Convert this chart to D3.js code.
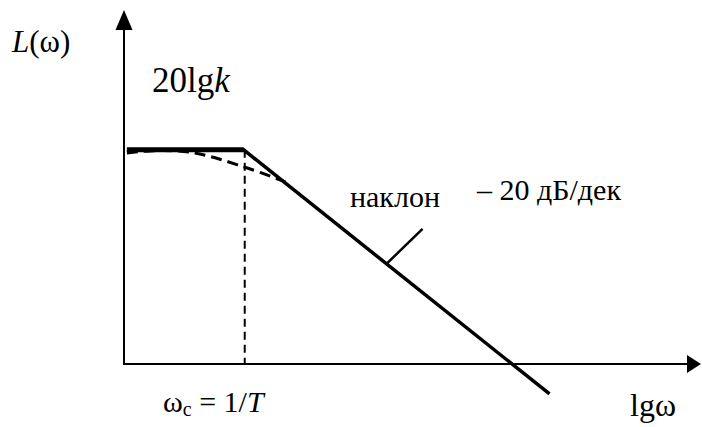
<!DOCTYPE html>
<html>
<head>
<meta charset="utf-8">
<script src="https://cdn.jsdelivr.net/npm/d3@7/dist/d3.min.js"></script>
</head>
<body style="margin:0">
<svg id="chart" width="702" height="427"></svg>
<script>
// Asymptotic LAFC of an aperiodic (first-order) link, lgω in decades
const gainDb = 37.2;          // 20lg k
const cornerLg = 0.83;        // lg ωc, ωc = 1/T
const slopeDb = -20;          // dB per decade above ωc

const asymLg = [0.02, cornerLg, 2.95];
const asymDb = asymLg.map(v => v <= cornerLg ? gainDb : gainDb + slopeDb * (v - cornerLg));

// exact characteristic near the corner (dashed)
const exactLg = [0.02, 0.18, 0.35, 0.49, 0.63, 0.78, 0.94, 1.12];
const exactDb = [36.66, 37.09, 37.09, 36.74, 35.88, 34.66, 33.36, 31.6];

const xDomain = [0, 4];
const yDomain = [0, 61.5];

// label parts: [text, italic, subscript]
const labels = [
  { x: 12,  y: 52,  size: 31, parts: [["L", 1, 0], ["(ω)", 0, 0]] },
  { x: 152, y: 92,  size: 35, parts: [["20lg", 0, 0], ["k", 1, 0]] },
  { x: 350, y: 207, size: 30, parts: [["наклон", 0, 0]] },
  { x: 477, y: 200, size: 30, parts: [["– 20 дБ/дек", 0, 0]] },
  { x: 163, y: 412, size: 30, parts: [["ω", 0, 0], ["c", 0, 1], [" = 1/", 0, 0], ["T", 1, 0]] },
  { x: 630, y: 416, size: 32, parts: [["lgω", 0, 0]] }
];

const svg = d3.select("#chart");
const W = 702, H = 427;
const m = { left: 124, right: 1, top: 10, bottom: 63 };

const x = d3.scaleLinear().domain(xDomain).range([m.left, W - m.right]);
const y = d3.scaleLinear().domain(yDomain).range([H - m.bottom, m.top]);

const line = d3.line().x(d => x(d[0])).y(d => y(d[1]));

// axes with arrow heads
const x0 = x(xDomain[0]), y0 = y(yDomain[0]);
const xEnd = x(xDomain[1]), yEnd = y(yDomain[1]);
svg.append("line").attr("x1", x0).attr("y1", y0).attr("x2", xEnd - 10).attr("y2", y0)
  .attr("stroke", "#000").attr("stroke-width", 2);
svg.append("line").attr("x1", x0).attr("y1", y0 + 1).attr("x2", x0).attr("y2", yEnd + 12)
  .attr("stroke", "#000").attr("stroke-width", 2);
svg.append("path")
  .attr("d", `M${xEnd},${y0} L${xEnd - 14},${y0 - 9} L${xEnd - 14},${y0 + 9} Z`)
  .attr("fill", "#000");
svg.append("path")
  .attr("d", `M${x0},${yEnd} L${x0 - 8.5},${yEnd + 20} L${x0 + 8.5},${yEnd + 20} Z`)
  .attr("fill", "#000");

// vertical dashed line at the corner frequency
svg.append("line")
  .attr("x1", x(cornerLg) + 1).attr("x2", x(cornerLg) + 1)
  .attr("y1", y(gainDb)).attr("y2", y0)
  .attr("stroke", "#000").attr("stroke-width", 2)
  .attr("stroke-dasharray", "8,5");

// exact curve
svg.append("path")
  .datum(exactLg.map((v, i) => [v, exactDb[i]]))
  .attr("d", line.curve(d3.curveBasis))
  .attr("fill", "none").attr("stroke", "#000")
  .attr("stroke-width", 3).attr("stroke-dasharray", "11,6");

// asymptotes
svg.append("path")
  .datum(asymLg.map((v, i) => [v, asymDb[i]]))
  .attr("d", line.curve(d3.curveLinear))
  .attr("fill", "none").attr("stroke", "#000")
  .attr("stroke-width", 3.5).attr("stroke-linejoin", "miter");
svg.append("path")
  .datum(asymLg.slice(0, 2).map((v, i) => [v, asymDb[i]]))
  .attr("d", line)
  .attr("fill", "none").attr("stroke", "#000").attr("stroke-width", 5);

// leader to the slope label
const leadLg = 1.82;
svg.append("line")
  .attr("x1", x(leadLg)).attr("y1", y(gainDb + slopeDb * (leadLg - cornerLg)))
  .attr("x2", x(leadLg) + 36).attr("y2", y(gainDb + slopeDb * (leadLg - cornerLg)) - 35)
  .attr("stroke", "#000").attr("stroke-width", 2.5);

// labels
const texts = svg.selectAll("text.lbl").data(labels).join("text")
  .attr("class", "lbl")
  .attr("x", d => d.x).attr("y", d => d.y)
  .attr("font-family", "Times New Roman")
  .attr("font-size", d => d.size);

texts.selectAll("tspan").data(d => d.parts).join("tspan")
  .attr("font-style", p => p[1] ? "italic" : null)
  .attr("font-size", p => p[2] ? 20 : null)
  .attr("dy", (p, i, nodes) => {
    const prev = i > 0 ? d3.select(nodes[i - 1]).datum()[2] : 0;
    return (p[2] ? 4 : 0) - (prev ? 4 : 0) || null;
  })
  .text(p => p[0]);
</script>
</body>
</html>
